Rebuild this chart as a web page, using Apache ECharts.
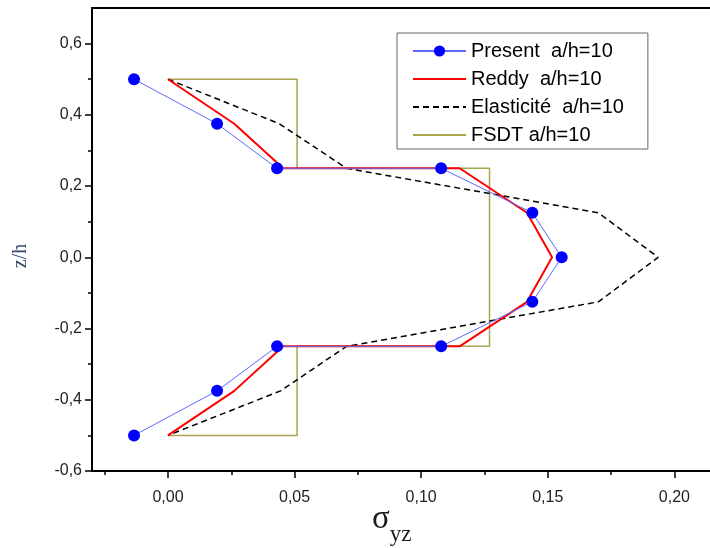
<!DOCTYPE html>
<html><head><meta charset="utf-8">
<script src="https://cdn.jsdelivr.net/npm/echarts@6/dist/echarts.min.js"></script>
<style>html,body{margin:0;padding:0;overflow:hidden;background:#fff}#c{width:740px;height:548px}</style>
</head><body><div id="c"></div>
<script>
// z/h levels for Present and Reddy
const zLevels = [0.5, 0.375, 0.25, 0.25, 0.125, 0, -0.125, -0.25, -0.25, -0.375, -0.5];
const presentX = [-0.0134, 0.0194, 0.0431, 0.1079, 0.1439, 0.1555, 0.1439, 0.1079, 0.0431, 0.0194, -0.0134];
const reddyX = [0, 0.0262, 0.0455, 0.1152, 0.1418, 0.1517, 0.1418, 0.1152, 0.0455, 0.0262, 0];
const elastZ = [0.5, 0.375, 0.25, 0.125, 0, -0.125, -0.25, -0.375, -0.5];
const elastX = [0, 0.0440, 0.0705, 0.1700, 0.1936, 0.1700, 0.0705, 0.0445, 0];
const fsdtZ = [0.5, 0.5, 0.25, 0.25, -0.25, -0.25, -0.5, -0.5];
const fsdtX = [0, 0.051, 0.051, 0.127, 0.127, 0.051, 0.051, 0];
const xTicks = [0, 0.05, 0.10, 0.15, 0.20];
const xMinorTicks = [-0.025, 0.025, 0.075, 0.125, 0.175];
const yTicks = [-0.6, -0.4, -0.2, 0, 0.2, 0.4, 0.6];
const yMinorTicks = [-0.5, -0.3, -0.1, 0.1, 0.3, 0.5];
const seriesNames = ['Present  a/h=10', 'Reddy  a/h=10', 'Elasticité  a/h=10', 'FSDT a/h=10'];

const pairs = (xs, zs) => xs.map((x, i) => [x, zs[i]]);
const sansFont = '"Liberation Sans", Arial, sans-serif';
const serifFont = '"Liberation Serif", "Times New Roman", serif';

const chart = echarts.init(document.getElementById('c'), null, {renderer: 'canvas'});
const xRange = {min: -0.03, max: 0.22};
const yRange = {min: -0.6, max: 0.7};
chart.setOption({
  animation: false,
  backgroundColor: '#fff',
  grid: {left: 92, top: 8, bottom: 77, right: 15, show: true, borderColor: '#000', borderWidth: 2, backgroundColor: 'transparent'},
  xAxis: [
    Object.assign({type: 'value', position: 'bottom',
      axisLine: {show: true, onZero: false, lineStyle: {color: '#000', width: 2}},
      axisTick: {show: true, customValues: xTicks, length: 7, lineStyle: {color: '#000', width: 1.5}},
      axisLabel: {customValues: xTicks, margin: 19, color: '#222', fontSize: 16, fontFamily: sansFont,
        formatter: v => v.toFixed(2).replace('.', ',')},
      splitLine: {show: false}}, xRange),
    Object.assign({type: 'value', position: 'bottom',
      axisLine: {show: false, onZero: false},
      axisTick: {show: true, customValues: xMinorTicks, length: 4, lineStyle: {color: '#000', width: 1.5}},
      axisLabel: {show: false},
      splitLine: {show: false}}, xRange)
  ],
  yAxis: [
    Object.assign({type: 'value', position: 'left',
      axisLine: {show: true, onZero: false, lineStyle: {color: '#000', width: 2}},
      axisTick: {show: true, customValues: yTicks, length: 7, lineStyle: {color: '#000', width: 1.5}},
      axisLabel: {customValues: yTicks, margin: 10, color: '#222', fontSize: 16, fontFamily: sansFont,
        formatter: v => v.toFixed(1).replace('.', ',')},
      splitLine: {show: false}}, yRange),
    Object.assign({type: 'value', position: 'left',
      axisLine: {show: false, onZero: false},
      axisTick: {show: true, customValues: yMinorTicks, length: 4, lineStyle: {color: '#000', width: 1.5}},
      axisLabel: {show: false},
      splitLine: {show: false}}, yRange)
  ],
  legend: {
    orient: 'vertical', left: 397, top: 33,
    data: seriesNames,
    itemWidth: 53, itemHeight: 14, itemGap: 8,
    padding: [8, 24, 4, 15],
    borderColor: '#666', borderWidth: 1,
    textStyle: {fontSize: 20, fontFamily: sansFont, color: '#000', lineHeight: 20}
  },
  graphic: [
    {type: 'text', left: 372, top: 503, style: {text: '{s|σ}{b|yz}', rich: {
      s: {fontSize: 33, fontFamily: serifFont, fill: '#1a1a1a', verticalAlign: 'bottom', lineHeight: 30},
      b: {fontSize: 23, fontFamily: serifFont, fill: '#1a1a1a', verticalAlign: 'bottom', padding: [0, 0, -10, 0]}
    }}},
    {type: 'text', x: 21, y: 256, rotation: Math.PI / 2, style: {text: 'z/h', fontSize: 20, fontFamily: serifFont, fill: '#3c4a70', align: 'center', verticalAlign: 'middle'}}
  ],
  series: [
    {name: seriesNames[0], type: 'line', data: pairs(presentX, zLevels), symbol: 'circle', symbolSize: 12,
      itemStyle: {color: '#0000ff'}, lineStyle: {color: '#5b6bff', width: 1}, z: 5},
    {name: seriesNames[1], type: 'line', data: pairs(reddyX, zLevels), symbol: 'none',
      itemStyle: {color: '#ff0000', opacity: 0}, lineStyle: {color: '#ff0000', width: 2}, z: 4},
    {name: seriesNames[2], type: 'line', data: pairs(elastX, elastZ), symbol: 'none',
      itemStyle: {color: '#000', opacity: 0}, lineStyle: {color: '#000', width: 1.5, type: [6, 4]}, z: 3},
    {name: seriesNames[3], type: 'line', data: pairs(fsdtX, fsdtZ), symbol: 'none',
      itemStyle: {color: '#a8a450', opacity: 0}, lineStyle: {color: '#a8a450', width: 1.5}, z: 2}
  ]
});
</script></body></html>
